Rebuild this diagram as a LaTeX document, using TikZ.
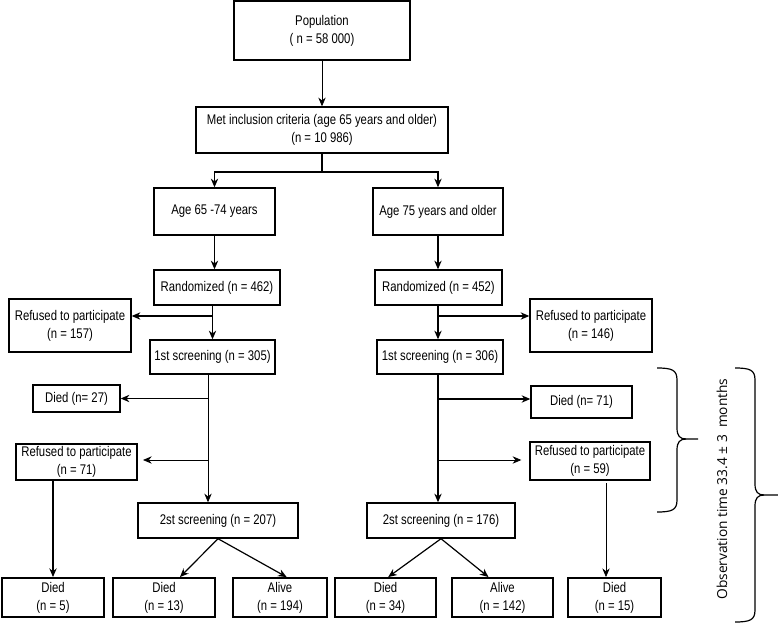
\documentclass[tikz,border=0pt]{standalone}
\usepackage{fontspec}
\setmainfont[FakeStretch=0.81]{Liberation Sans}
\newfontfamily\obsfont{Open Sans}
\usetikzlibrary{arrows.meta}

\begin{document}
\begin{tikzpicture}[x=0.75pt,y=-0.75pt,
    box/.style={draw,line width=1.05pt,inner sep=0pt,align=center,font=\fontsize{10.5}{13.5}\selectfont},
    endbox/.style={box,line width=1.4pt,minimum height=29.25pt},
    arr/.style={-{Stealth[length=6.5pt,width=5.5pt]},line width=0.9pt},
    thinarr/.style={arr,line width=0.55pt},
    thickarr/.style={arr,line width=1.3pt}]
  \useasboundingbox (0,0) rectangle (778,627);
  % top of the chart
  \node[box,minimum width=132pt,minimum height=44.25pt] (pop) at (322,30.5) {Population\\( n = 58 000)};
  \node[box,minimum width=189pt,minimum height=34.5pt] (met) at (322,130) {Met inclusion criteria (age 65 years and older)\\(n = 10 986)};
  \node[box,minimum width=90.75pt,minimum height=35.25pt] (age1) at (214.5,211.5) {Age 65 -74 years};
  \node[box,minimum width=97.5pt,minimum height=35.25pt] (age2) at (438,211.5) {Age 75 years and older};
  \node[box,minimum width=94.5pt,minimum height=26.25pt] (rand1) at (217,287.5) {Randomized (n = 462)};
  \node[box,minimum width=95.25pt,minimum height=26.25pt] (rand2) at (438.5,287.5) {Randomized (n = 452)};
  \node[box,minimum width=91.5pt,minimum height=39.75pt] (ref1) at (70,325.5) {Refused to participate\\(n = 157)};
  \node[box,minimum width=91.5pt,minimum height=39.75pt] (ref2) at (591,325.5) {Refused to participate\\(n = 146)};
  \node[box,minimum width=93.75pt,minimum height=25.5pt] (scr1a) at (212.5,357) {1st screening (n = 305)};
  \node[box,minimum width=94.5pt,minimum height=25.5pt] (scr1b) at (440,357) {1st screening (n = 306)};
  % observation period
  \node[box,minimum width=65.25pt,minimum height=20.25pt] (died27) at (76.5,398.5) {Died (n= 27)};
  \node[box,minimum width=75.75pt,minimum height=24pt] (died71) at (581.5,402) {Died (n= 71)};
  \node[box,minimum width=90.75pt,minimum height=27pt] (ref3) at (76.5,462) {Refused to participate\\(n = 71)};
  \node[box,minimum width=90pt,minimum height=28.5pt] (ref4) at (590,461) {Refused to participate\\(n = 59)};
  \node[box,minimum width=120pt,minimum height=26.25pt] (scr2a) at (218,520.5) {2st screening (n = 207)};
  \node[box,minimum width=111pt,minimum height=26.25pt] (scr2b) at (441,520.5) {2st screening (n = 176)};
  % outcomes
  \node[endbox,minimum width=76.5pt] (d5) at (53,597.5) {Died\\(n = 5)};
  \node[endbox,minimum width=76.5pt] (d13) at (164,597.5) {Died\\(n = 13)};
  \node[endbox,minimum width=70.5pt] (a194) at (280,597.5) {Alive\\(n = 194)};
  \node[endbox,minimum width=75.75pt] (d34) at (385.5,597.5) {Died\\(n = 34)};
  \node[endbox,minimum width=75.75pt] (a142) at (502.5,597.5) {Alive\\(n = 142)};
  \node[endbox,minimum width=69.75pt] (d15) at (614.5,597.5) {Died\\(n = 15)};
  \coordinate (ltrunk) at (208,0);
  \coordinate (rtrunk) at (438,0);
  % connectors
  \draw[thinarr] (pop) -- (met);
  \draw[arr] (met.south) -- (met.south |- 0,172) -| (age1.north);
  \draw[arr] (met.south |- 0,172) -| (age2.north);
  \draw[arr] (age1.south) -- (age1.south |- rand1.north);
  \draw[arr] (age2.south -| rtrunk) -- (rand2.north -| rtrunk);
  \draw[arr] (rand1.south -| scr1a.north) -- (scr1a.north);
  \draw[arr] (scr1a.north |- 0,316) -- (ref1.east |- 0,316);
  \draw[arr] (rand2.south -| rtrunk) -- (scr1b.north -| rtrunk);
  \draw[arr] (rtrunk |- 0,316) -- (ref2.west |- 0,316);
  \draw[thinarr] (scr1a.south -| ltrunk) -- (scr2a.north -| ltrunk);
  \draw[arr] (ltrunk |- died27) -- (died27);
  \draw[thinarr,shorten >=4pt] (ltrunk |- 0,460) -- (ref3.east |- 0,460);
  \draw[arr] (scr1b.south -| rtrunk) -- (scr2b.north -| rtrunk);
  \draw[arr] (rtrunk |- 0,399) -- (died71.west |- 0,399);
  \draw[thinarr,shorten >=6pt] (rtrunk |- 0,460) -- (ref4.west |- 0,460);
  \draw[thickarr] (d5.north |- ref3.south) -- (d5.north);
  \draw[thinarr,shorten <=2pt] (ref4.south -| 606,0) -- (d15.north -| 606,0);
  \draw[arr] (scr2a.south) -- ([xshift=12pt]d13.north);
  \draw[arr] (scr2a.south) -- ([xshift=5pt]a194.north);
  \draw[arr] (scr2b.south) -- ([xshift=2pt]d34.north);
  \draw[arr] (scr2b.south) -- ([xshift=-10.5pt]a142.north);
  % braces
  \draw[line width=0.9pt] (657,368) .. controls (672,368) and (677,370) .. (677,380) -- (677,428)
    .. controls (677,436) and (680,439) .. (686,439) -- (698,439);
  \draw[line width=0.9pt] (686,439) .. controls (680,439) and (677,442) .. (677,450) -- (677,500)
    .. controls (677,510) and (672,512) .. (657,512);
  \draw[line width=0.9pt] (735,368) .. controls (750,368) and (755,370) .. (755,380) -- (755,484)
    .. controls (755,492) and (758,495) .. (764,495) -- (778,495);
  \draw[line width=0.9pt] (764,495) .. controls (758,495) and (755,498) .. (755,506) -- (755,610)
    .. controls (755,620) and (750,622) .. (735,622);
  \node[rotate=90,font=\obsfont\fontsize{10.3}{12}\selectfont] (obs) at (722,489) {Observation time 33.4 ± 3\ \ months};
\end{tikzpicture}
\end{document}
